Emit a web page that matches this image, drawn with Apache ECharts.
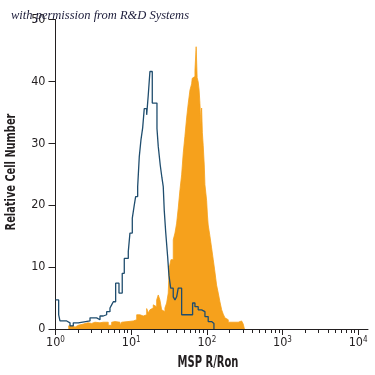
<!DOCTYPE html>
<html>
<head>
<meta charset="utf-8">
<script src="https://cdn.jsdelivr.net/npm/echarts@6/dist/echarts.min.js"></script>
<style>
  html, body { margin: 0; padding: 0; background: #fff; }
  #chart { width: 375px; height: 375px; }
</style>
</head>
<body>
<div id="chart"></div>
<script>
// x is log10 of the channel: 0 -> 10^0 ... 4 -> 10^4
const decades = [0, 1, 2, 3, 4];
const exponents = ['0', '1', '2', '3', '4'];
const minorSteps = [2, 3, 4, 5, 6, 7, 8, 9];

// isotype control (blue outline): left edge of each step, count
const isoX = [0.00, 0.042, 0.059, 0.148, 0.192, 0.235, 0.301, 0.456, 0.544, 0.588, 0.631, 0.676, 0.720, 0.742, 0.764, 0.795, 0.839, 0.882, 0.909, 0.962, 0.984, 1.015, 1.041, 1.059, 1.086, 1.107, 1.129, 1.152, 1.173, 1.205, 1.226, 1.248, 1.279, 1.341, 1.358, 1.384, 1.407, 1.424, 1.437, 1.456, 1.482, 1.499, 1.522, 1.556, 1.579, 1.601, 1.622, 1.667, 1.812, 1.843, 1.886, 1.931, 1.975, 2.018, 2.063, 2.094];
const isoY = [4.7, 2.3, 1.3, 1.0, 0.5, 1.0, 1.3, 1.8, 1.5, 2.1, 2.3, 2.8, 3.4, 3.9, 4.4, 7.4, 5.8, 9.0, 11.4, 12.5, 15.5, 17.9, 20.0, 21.4, 23.0, 27.8, 30.5, 32.5, 35.6, 34.6, 37.8, 41.6, 36.5, 32.4, 29.5, 26.5, 24.4, 23.0, 19.2, 15.7, 11.7, 8.7, 6.6, 5.2, 4.7, 5.2, 6.6, 2.3, 4.2, 3.6, 3.1, 2.8, 2.0, 1.2, 0.9, 0];

// MSP R/Ron stained cells (orange fill)
const mspX = [0.169, 0.231, 0.258, 0.301, 0.367, 0.429, 0.478, 0.522, 0.588, 0.631, 0.654, 0.697, 0.742, 0.764, 0.786, 0.812, 0.852, 0.874, 0.896, 0.958, 1.028, 1.073, 1.116, 1.139, 1.160, 1.205, 1.226, 1.248, 1.271, 1.292, 1.314, 1.337, 1.358, 1.380, 1.403, 1.424, 1.446, 1.469, 1.490, 1.503, 1.526, 1.556, 1.579, 1.601, 1.622, 1.645, 1.667, 1.688, 1.710, 1.733, 1.754, 1.777, 1.799, 1.807, 1.830, 1.843, 1.859, 1.872, 1.886, 1.898, 1.909, 1.922, 1.931, 1.941, 1.952, 1.966, 1.975, 1.997, 2.008, 2.018, 2.041, 2.063, 2.085, 2.107, 2.129, 2.151, 2.173, 2.196, 2.217, 2.239, 2.262, 2.283, 2.415, 2.437, 2.460, 2.481, 2.497];
const mspY = [0.5, 0.3, 0.6, 0.8, 1.0, 0.9, 1.1, 1.0, 1.1, 1.3, 1.1, 0.6, 1.1, 1.2, 1.5, 1.1, 0.6, 1.1, 1.2, 1.3, 1.5, 2.3, 2.5, 2.1, 2.3, 3.3, 2.6, 3.1, 3.4, 3.9, 3.6, 4.7, 5.5, 4.7, 3.1, 2.8, 3.4, 4.2, 5.8, 9.9, 11.2, 14.4, 15.5, 17.1, 19.5, 22.5, 24.9, 28.4, 31.1, 34.1, 36.4, 38.6, 39.6, 40.5, 40.8, 41.8, 45.6, 40.6, 39.9, 38.6, 36.4, 33.0, 35.7, 31.7, 29.7, 26.5, 23.3, 20.8, 18.4, 16.8, 15.0, 13.1, 11.2, 9.2, 7.1, 5.8, 4.4, 3.1, 2.4, 1.8, 1.5, 1.1, 1.0, 1.3, 1.5, 0.8, 0];

const axisColor = '#231f20';
const narrow = "'Liberation Sans Narrow', 'DejaVu Sans Condensed', 'Roboto', sans-serif";
const xMax = 4.13;

// minor ticks at 2..9 in every decade
const minorTicks = [];
decades.forEach(d => {
  minorSteps.forEach(k => {
    const v = d + Math.log10(k);
    if (v < xMax) minorTicks.push(v);
  });
});

const chart = echarts.init(document.getElementById('chart'));

const option = {
  animation: false,
  title: {
    text: 'with permission from R&D Systems',
    left: 11,
    top: 9,
    padding: 0,
    textStyle: {
      fontFamily: "'Liberation Serif', 'DejaVu Serif', serif",
      fontStyle: 'italic',
      fontWeight: 'normal',
      fontSize: 12.5,
      color: '#1c1c3a'
    }
  },
  // axis titles are condensed in the original, so they are squeezed horizontally
  graphic: [
    {
      type: 'text',
      x: 208,
      y: 363,
      scaleX: 0.74,
      style: {
        text: 'MSP R/Ron',
        font: 'bold 15px ' + narrow,
        fill: axisColor,
        align: 'center',
        verticalAlign: 'middle'
      }
    },
    {
      type: 'text',
      x: 11,
      y: 172,
      rotation: Math.PI / 2,
      scaleX: 0.78,
      style: {
        text: 'Relative Cell Number',
        font: 'bold 14px ' + narrow,
        fill: axisColor,
        align: 'center',
        verticalAlign: 'middle'
      }
    }
  ],
  grid: {
    left: 55.5,
    right: 7,
    top: 19.5,
    bottom: 46
  },
  xAxis: [
    {
      type: 'value',
      min: 0,
      max: xMax,
      position: 'bottom',
      axisLine: { lineStyle: { color: axisColor, width: 1 } },
      axisTick: { customValues: decades, length: 6, lineStyle: { color: axisColor } },
      axisLabel: {
        customValues: decades,
        margin: 7,
        formatter: v => '{b|10}{s|' + exponents[decades.indexOf(Math.round(v))] + '}',
        rich: {
          b: { fontFamily: narrow, fontSize: 12.5, color: axisColor, verticalAlign: 'bottom' },
          s: { fontFamily: narrow, fontSize: 8, color: axisColor, verticalAlign: 'top' }
        }
      },
      splitLine: { show: false }
    },
    {
      type: 'value',
      min: 0,
      max: xMax,
      position: 'bottom',
      axisLine: { show: false },
      axisTick: { customValues: minorTicks, length: 4, lineStyle: { color: axisColor } },
      axisLabel: { show: false },
      splitLine: { show: false }
    }
  ],
  yAxis: {
    type: 'value',
    min: 0,
    max: 50,
    interval: 10,
    axisLine: { show: true, lineStyle: { color: axisColor, width: 1 } },
    axisTick: { show: true, length: 7, lineStyle: { color: axisColor } },
    axisLabel: { fontFamily: narrow, fontSize: 12.5, color: axisColor, margin: 10 },
    splitLine: { show: false }
  },
  series: [
    {
      name: 'MSP R/Ron',
      type: 'line',
      xAxisIndex: 0,
      step: 'end',
      symbol: 'none',
      data: mspX.map((x, i) => [x, mspY[i]]),
      lineStyle: { color: '#f6a11c', width: 0.8 },
      areaStyle: { color: '#f6a11c', opacity: 1 }
    },
    {
      name: 'Isotype',
      type: 'line',
      xAxisIndex: 0,
      step: 'end',
      symbol: 'none',
      data: isoX.map((x, i) => [x, isoY[i]]),
      lineStyle: { color: '#1f4d6e', width: 1.3 }
    }
  ]
};

chart.setOption(option);
</script>
</body>
</html>
